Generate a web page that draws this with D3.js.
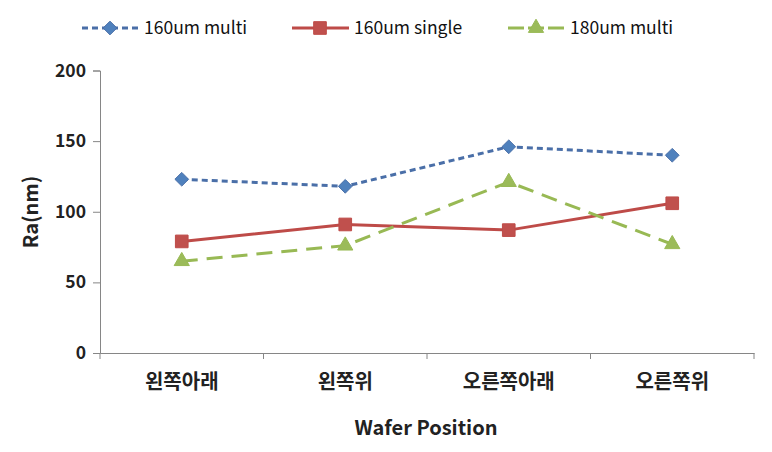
<!DOCTYPE html>
<html><head><meta charset="utf-8">
<script src="https://cdn.jsdelivr.net/npm/d3@7"></script>
<style>body{margin:0;background:#fff}svg{display:block}</style>
</head><body>
<svg id="c" width="772" height="452"></svg>
<script>
const categories = ["왼쪽아래","왼쪽위","오른쪽아래","오른쪽위"];
const multi160 = [123, 118, 146, 140];
const single160 = [79, 91, 87, 106];
const multi180 = [65, 76, 121, 77];
const yTicks = [0, 50, 100, 150, 200];
const seriesNames = ["160um multi","160um single","180um multi"];

const series = [
  {name: seriesNames[0], values: multi160, line:"#4a6fa8", fill:"#4f81bd", dash:"6,4", marker:"diamond"},
  {name: seriesNames[1], values: single160, line:"#be4b48", fill:"#c0504d", dash:null, marker:"square"},
  {name: seriesNames[2], values: multi180, line:"#98b954", fill:"#9bbb59", dash:"16,9", marker:"triangle"}
];

const svg = d3.select("#c");
const font = "'Noto Sans CJK KR','Noto Sans',sans-serif";
const x = d3.scaleBand().domain(categories).range([100, 754]);
const y = d3.scaleLinear().domain([0, 200]).range([353, 70.5]);

// axes
const yAxis = svg.append("g").attr("transform","translate(100,0)")
  .call(d3.axisLeft(y).tickValues(yTicks).tickSize(7).tickPadding(7));
const xAxis = svg.append("g").attr("transform","translate(0,353)")
  .call(d3.axisBottom(x).tickSize(0).tickPadding(19));
[yAxis, xAxis].forEach(a=>{
  a.selectAll("path,line").attr("stroke","#868686").attr("stroke-width",1);
  a.selectAll("text").attr("font-family",font).attr("font-weight","bold").attr("fill","#222");
});
yAxis.selectAll("text").attr("font-size",17.5);
xAxis.selectAll("text").attr("font-size",20).attr("dy","0.85em");
// x ticks between categories
const bounds = categories.map(c=>x(c)).concat([x.range()[1]]);
svg.append("g").selectAll("line").data(bounds).join("line")
  .attr("x1",d=>d).attr("x2",d=>d).attr("y1",353).attr("y2",359)
  .attr("stroke","#868686");

// titles
svg.append("text").attr("x",426).attr("y",435).attr("text-anchor","middle")
  .attr("font-family",font).attr("font-weight","bold").attr("font-size",20).attr("fill","#222")
  .text("Wafer Position");
svg.append("text").attr("transform","translate(38,212) rotate(-90)").attr("text-anchor","middle")
  .attr("font-family",font).attr("font-weight","bold").attr("font-size",20).attr("fill","#222")
  .text("Ra(nm)");

function markerPath(type){
  if(type==="diamond") return d3.symbol(d3.symbolDiamond2, 120)();
  if(type==="square") return d3.symbol(d3.symbolSquare, 160)();
  return d3.symbol(d3.symbolTriangle, 100)();
}

const line = d3.line().x((d,i)=>x(categories[i])+x.bandwidth()/2).y(d=>y(d));
series.forEach(s=>{
  svg.append("path").datum(s.values).attr("d",line).attr("fill","none")
    .attr("stroke",s.line).attr("stroke-width",3).attr("stroke-dasharray",s.dash);
  svg.append("g").selectAll("path").data(s.values).join("path")
    .attr("d",markerPath(s.marker))
    .attr("transform",(d,i)=>`translate(${x(categories[i])+x.bandwidth()/2},${y(d)})`)
    .attr("fill",s.fill).attr("stroke",s.line).attr("stroke-width",1);
});

// legend
const legX = [82, 292, 508];
series.forEach((s,i)=>{
  const g = svg.append("g").attr("transform",`translate(${legX[i]},28)`);
  g.append("line").attr("x1",0).attr("x2",57).attr("y1",0).attr("y2",0)
    .attr("stroke",s.line).attr("stroke-width",3).attr("stroke-dasharray",s.dash? (i===0?"6,4":"16,4"):null);
  g.append("path").attr("d",markerPath(s.marker)).attr("transform","translate(28,0)")
    .attr("fill",s.fill).attr("stroke",s.line).attr("stroke-width",1);
  g.append("text").attr("x",62).attr("y",0).attr("dy","0.35em")
    .attr("font-family",font).attr("font-size",17.5).attr("fill","#111").text(s.name);
});
</script>
</body></html>
